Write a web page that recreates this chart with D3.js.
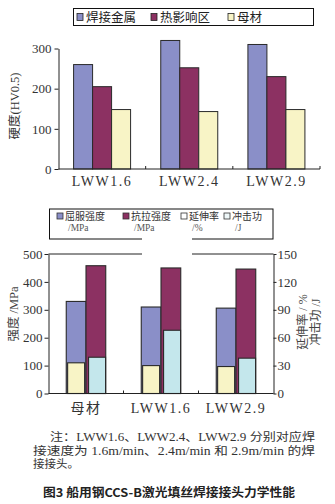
<!DOCTYPE html>
<html><head><meta charset="utf-8">
<script src="https://cdn.jsdelivr.net/npm/d3@7"></script>
<style>body{margin:0;background:#fff}svg{display:block}</style>
</head><body>
<svg id="c" width="335" height="504"></svg>
<script>
// ---- Data ----
const hardCats = ["LWW1.6", "LWW2.4", "LWW2.9"];
const hardSeries = ["焊接金属", "热影响区", "母材"];
const hardWeld = [260, 320, 310];
const hardHAZ = [205, 252, 230];
const hardBase = [148, 143, 148];
const hardTicks = [0, 100, 200, 300];

const mechCats = ["母材", "LWW1.6", "LWW2.9"];
const mechSeriesL1 = ["屈服强度", "抗拉强度", "延伸率", "冲击功"];
const mechSeriesL2 = ["/MPa", "/MPa", "/%", "/J"];
const yieldStr = [330, 310, 306];
const tensileStr = [458, 450, 446];
const elongation = [33, 30, 29];
const impact = [39, 68, 38];
const leftTicks = [0, 100, 200, 300, 400, 500];
const rightTicks = [0, 30, 60, 90, 120, 150];

const C = {blue:"#8a8fc8", red:"#8c3162", yellow:"#f8f4c6", cyan:"#c4e7ec", stroke:"#2a2a2a"};
const serif = "'Liberation Serif','Noto Sans CJK SC',serif";
const cjk = "'Noto Sans CJK SC',sans-serif";

const svg = d3.select("#c");

// ================= Top chart =================
{
  const x = d3.scaleBand().domain(hardCats).range([58.5, 320]);
  const inner = d3.scaleBand().domain(hardSeries).range([0, 57]).paddingInner(0);
  const y = d3.scaleLinear().domain([0, 300]).range([169, 48.5]);
  const vals = [hardWeld, hardHAZ, hardBase];
  const cols = [C.blue, C.red, C.yellow];
  const off = (x.bandwidth() - 57) / 2;

  hardSeries.forEach((s, si) => {
    svg.append("g").selectAll("rect").data(hardCats).join("rect")
      .attr("x", d => x(d) + off + inner(s))
      .attr("y", (d, i) => y(vals[si][i]))
      .attr("width", inner.bandwidth())
      .attr("height", (d, i) => y(0) - y(vals[si][i]))
      .attr("fill", cols[si]).attr("stroke", C.stroke).attr("stroke-width", 1);
  });

  const ya = svg.append("g").attr("transform", "translate(58.5,0)")
    .call(d3.axisLeft(y).tickValues(hardTicks).tickSize(4).tickSizeOuter(0));
  ya.select(".domain").attr("stroke", "#222");
  ya.selectAll("line").attr("stroke", "#222");
  ya.selectAll("text").attr("font-family", serif).attr("font-size", 13).attr("fill", "#333").attr("x", -7);

  const xa = svg.append("g").attr("transform", "translate(0,169)");
  xa.append("line").attr("x1", 58.5).attr("x2", 320).attr("y1", 0).attr("y2", 0).attr("stroke", "#222");
  xa.selectAll("line.t").data(hardCats.slice(1).concat(["end"])).join("line").attr("class", "t")
    .attr("x1", (d, i) => i < 2 ? x(d) : 320).attr("x2", (d, i) => i < 2 ? x(d) : 320)
    .attr("y1", 0).attr("y2", -3).attr("stroke", "#222");
  xa.selectAll("text").data(hardCats).join("text")
    .attr("x", d => x(d) + x.bandwidth() / 2).attr("y", 17)
    .attr("text-anchor", "middle").attr("font-family", serif).attr("font-size", 14)
    .attr("letter-spacing", 1.5).attr("fill", "#333").text(d => d);

  svg.append("text").attr("transform", "translate(19,106) rotate(-90)")
    .attr("text-anchor", "middle").attr("font-family", serif).attr("font-size", 12.5).attr("fill", "#333")
    .text("硬度(HV0.5)");

  svg.append("rect").attr("x", 73.5).attr("y", 8.5).attr("width", 240).attr("height", 17)
    .attr("fill", "#fff").attr("stroke", "#111");
  const lx = [77, 151, 228];
  hardSeries.forEach((s, i) => {
    svg.append("rect").attr("x", lx[i]).attr("y", 13.5).attr("width", 6).attr("height", 7)
      .attr("fill", cols[i]).attr("stroke", "#222").attr("stroke-width", 0.8);
    svg.append("text").attr("x", lx[i] + 9).attr("y", 21.5).attr("font-family", cjk)
      .attr("font-size", 12.5).attr("fill", "#222").text(s);
  });
}

// ================= Bottom chart =================
{
  const x = d3.scaleBand().domain(mechCats).range([48.5, 273.5]);
  const pair = d3.scaleBand().domain([0, 1]).range([0, 39.5]);
  const yL = d3.scaleLinear().domain([0, 500]).range([393.5, 254]);
  const yR = d3.scaleLinear().domain([0, 150]).range([393.5, 254]);
  const off = (x.bandwidth() - 39.5) / 2;
  const bw = pair.bandwidth();
  const iw = bw * 0.86;

  const layers = [
    {v: yieldStr, s: yL, p: 0, w: bw, c: C.blue},
    {v: tensileStr, s: yL, p: 1, w: bw, c: C.red},
    {v: elongation, s: yR, p: 0, w: iw, c: C.yellow},
    {v: impact, s: yR, p: 1, w: iw, c: C.cyan}
  ];
  layers.forEach(L => {
    svg.append("g").selectAll("rect").data(mechCats).join("rect")
      .attr("x", d => x(d) + off + pair(L.p) + (bw - L.w) / 2 + (L.p === 1 && L.w < bw ? 1.2 : 0))
      .attr("y", (d, i) => L.s(L.v[i]))
      .attr("width", L.w)
      .attr("height", (d, i) => L.s(0) - L.s(L.v[i]))
      .attr("fill", L.c).attr("stroke", C.stroke).attr("stroke-width", 1.1);
  });

  svg.append("line").attr("x1", 48.5).attr("x2", 273.5).attr("y1", 254).attr("y2", 254).attr("stroke", "#222");

  const la = svg.append("g").attr("transform", "translate(48.5,0)")
    .call(d3.axisLeft(yL).tickValues(leftTicks).tickSize(4).tickSizeOuter(0));
  la.select(".domain").attr("stroke", "#222");
  la.selectAll("line").attr("stroke", "#222");
  la.selectAll("text").attr("font-family", serif).attr("font-size", 13).attr("fill", "#333").attr("x", -6);

  const ra = svg.append("g").attr("transform", "translate(273.5,0)")
    .call(d3.axisRight(yR).tickValues(rightTicks).tickSize(3).tickSizeOuter(0));
  ra.select(".domain").attr("stroke", "#222");
  ra.selectAll("line").attr("stroke", "#222");
  ra.selectAll("text").attr("font-family", serif).attr("font-size", 13).attr("fill", "#333").attr("x", 4);

  const xa = svg.append("g").attr("transform", "translate(0,393.5)");
  xa.append("line").attr("x1", 48.5).attr("x2", 273.5).attr("stroke", "#222");
  xa.selectAll("line.t").data(mechCats.slice(1)).join("line").attr("class", "t")
    .attr("x1", d => x(d)).attr("x2", d => x(d)).attr("y1", 0).attr("y2", -3).attr("stroke", "#222");
  xa.selectAll("text").data(mechCats).join("text")
    .attr("x", d => x(d) + x.bandwidth() / 2).attr("y", 19)
    .attr("text-anchor", "middle").attr("font-family", serif).attr("font-size", 14)
    .attr("letter-spacing", 1.5).attr("fill", "#333").text(d => d);

  svg.append("text").attr("transform", "translate(18,314) rotate(-90)")
    .attr("text-anchor", "middle").attr("font-family", serif).attr("font-size", 12.5).attr("fill", "#444")
    .text("强度 /MPa");
  svg.append("text").attr("transform", "translate(307,322) rotate(-90)")
    .attr("text-anchor", "middle").attr("font-family", serif).attr("font-size", 12).attr("fill", "#444")
    .text("延伸率 / %");
  svg.append("text").attr("transform", "translate(320,322) rotate(-90)")
    .attr("text-anchor", "middle").attr("font-family", serif).attr("font-size", 12).attr("fill", "#444")
    .text("冲击功 /J");

  svg.append("rect").attr("x", 49.5).attr("y", 209).attr("width", 223.5).attr("height", 30)
    .attr("fill", "#fff").attr("stroke", "#111");
  svg.append("rect").attr("x", 142).attr("y", 236).attr("width", 50).attr("height", 20).attr("fill", "#fff");
  const cols = [C.blue, C.red, "#fff", "#eef7f8"];
  const lx = [57, 123, 181, 224];
  mechSeriesL1.forEach((s, i) => {
    svg.append("rect").attr("x", lx[i]).attr("y", 213).attr("width", 6).attr("height", 6)
      .attr("fill", cols[i]).attr("stroke", "#333").attr("stroke-width", 0.8);
    svg.append("text").attr("x", lx[i] + 8).attr("y", 219.5).attr("font-family", cjk)
      .attr("font-size", 10).attr("fill", "#333").text(s);
    svg.append("text").attr("x", lx[i] + 11).attr("y", 231).attr("font-family", serif)
      .attr("font-size", 9.5).attr("fill", "#555").text(mechSeriesL2[i]);
  });
}

// ================= Notes & caption =================
const noteLines = [
  {t: "注：LWW1.6、LWW2.4、LWW2.9 分别对应焊", x: 50, y: 441, w: 265},
  {t: "接速度为 1.6m/min、2.4m/min 和 2.9m/min 的焊", x: 33, y: 454.5, w: 282},
  {t: "接接头。", x: 33, y: 468, w: 0}
];
noteLines.forEach(L => {
  const t = svg.append("text").attr("x", L.x).attr("y", L.y).attr("font-family", serif)
    .attr("font-size", 11.5).attr("fill", "#333").text(L.t);
  if (L.w) t.attr("textLength", L.w).attr("lengthAdjust", "spacingAndGlyphs");
});
svg.append("text").attr("x", 43).attr("y", 497).attr("font-family", cjk).attr("font-weight", "bold")
  .attr("font-size", 12).attr("fill", "#222").attr("textLength", 252).attr("lengthAdjust", "spacingAndGlyphs")
  .text("图3  船用钢CCS-B激光填丝焊接接头力学性能");
</script>
</body></html>
